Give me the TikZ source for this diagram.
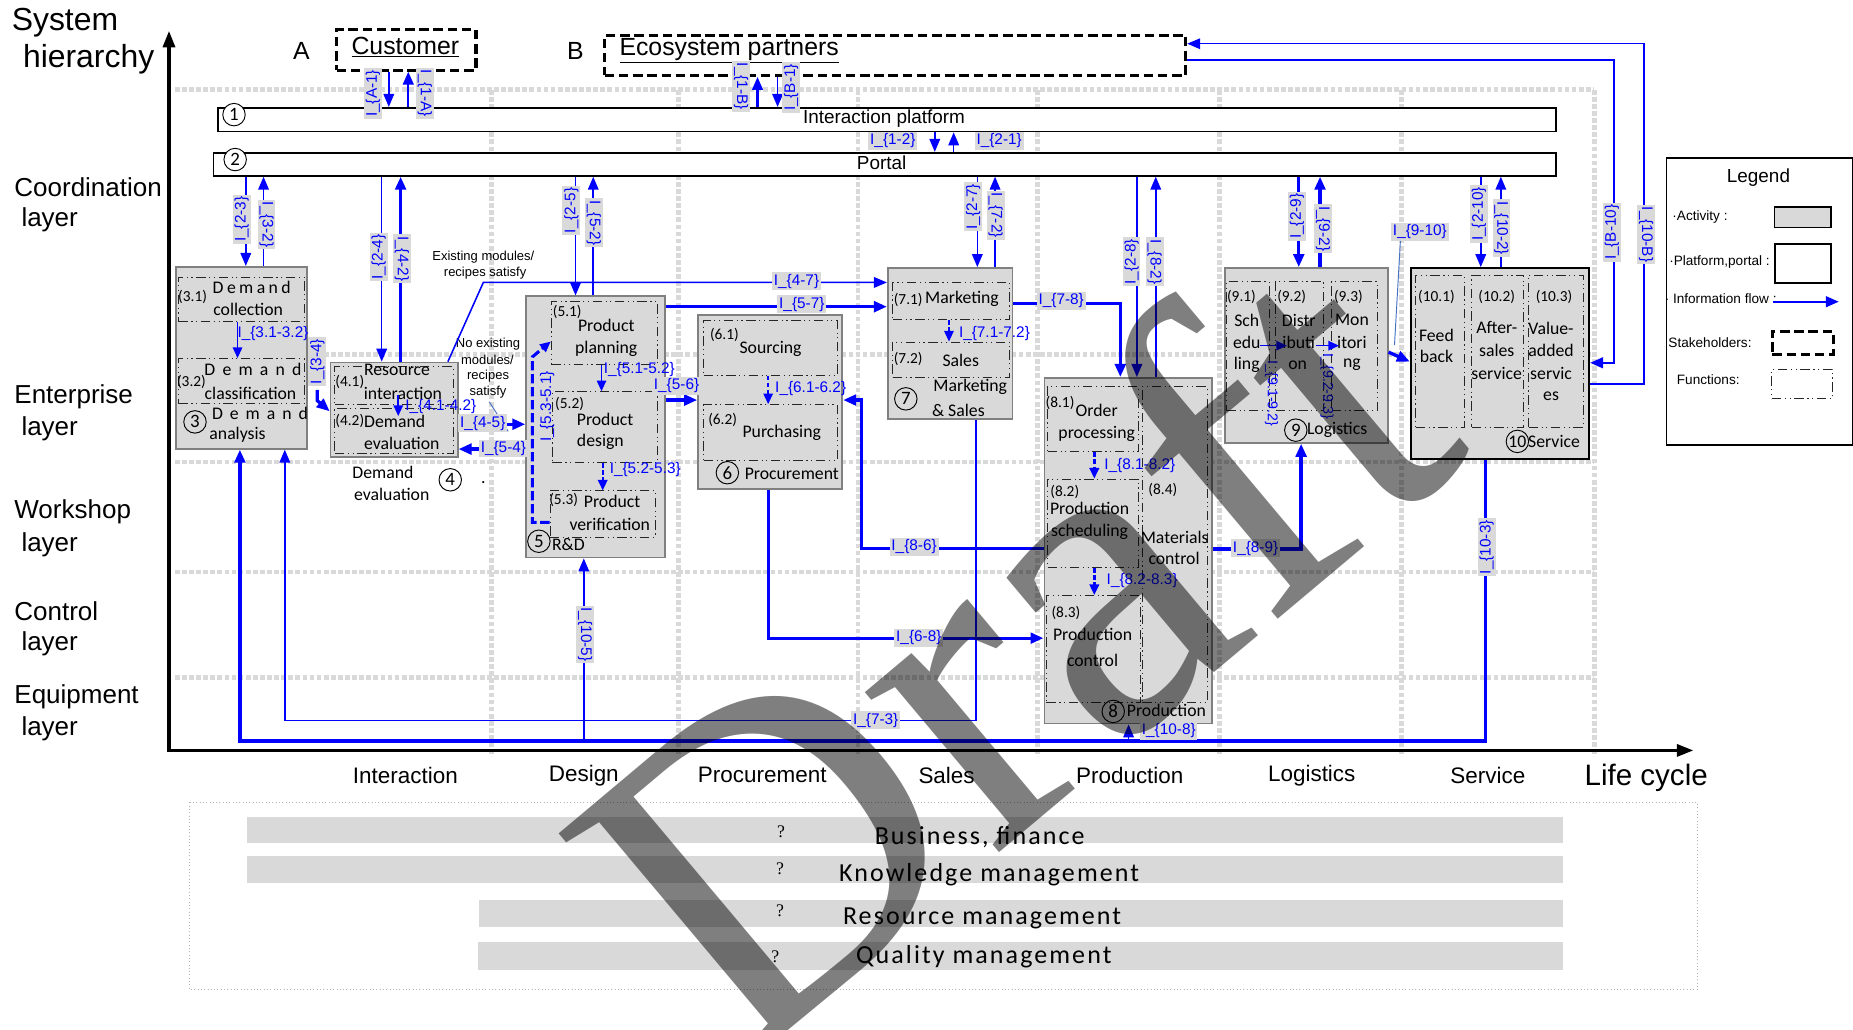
\documentclass[tikz,border=0pt]{standalone}
\usepackage{fontspec}
\setmainfont{Liberation Sans}
\newfontfamily\carl{Carlito}
\newfontfamily\carlsp[LetterSpace=8]{Carlito}
\newfontfamily\serifw{Liberation Serif}
\usetikzlibrary{arrows.meta}
\definecolor{stb}{RGB}{70,114,196}
\newcommand\fsz[1]{\fontsize{#1}{#1}\selectfont}
\newcommand\flab[1]{I\_\{#1\}}
\newcommand\spr[2]{\makebox[#1pt][s]{#2}}
\newcommand\mkbox[6]{\node[#1,minimum width={#4-#2},minimum height={#5-#3}] (#6) at (#2,#3) {};}
\tikzset{
 grd/.style={draw=gray!30, line width=4pt, dash pattern=on 4pt off 2pt},
 act/.style={draw=gray, line width=1.5pt, fill=gray!30, anchor=north west, inner sep=0pt, rectangle},
 fnc/.style={draw=black!85, line width=0.8pt, dash pattern=on 8pt off 3pt on 1pt off 3pt on 1pt off 3pt, anchor=north west, inner sep=0pt, rectangle},
 stk/.style={draw=black, line width=2.6pt, dash pattern=on 8pt off 4pt, anchor=north west, inner sep=0pt, rectangle},
 barb/.style={draw=black, line width=1.5pt, fill=white, anchor=north west, inner sep=0pt, rectangle},
 gbar/.style={fill=gray!30, anchor=north west, inner sep=0pt, rectangle},
 tx/.style={font=\carl\fsz{15}, inner sep=0pt},
 tn/.style={font=\carl\fsz{13}, inner sep=0pt},
 lab/.style={font=\fsz{13}, text=blue, fill=gray!30, inner sep=1.5pt},
 labv/.style={lab, rotate=90},
 labw/.style={lab, rotate=-90},
 labn/.style={font=\fsz{13}, text=blue, inner sep=0pt},
 cn/.style={circle, draw, line width=0.8pt, inner sep=0pt, minimum size=19pt, font=\carl\fsz{16}},
 fl/.style={draw=blue, line width=1.3pt, -{Triangle[length=11pt,width=9pt]}},
 flt/.style={fl, line width=2.8pt},
 fli/.style={draw=blue, line width=1.3pt, -{Triangle[length=9pt,width=8pt]}},
 big/.style={font=\fsz{22}, inner sep=0pt, anchor=west},
 lc/.style={font=\fsz{19}, inner sep=0pt},
 lg/.style={font=\fsz{11.5}, inner sep=0pt},
}
\begin{document}
\begin{tikzpicture}[x=1pt,y=-1pt]
\useasboundingbox (0,0) rectangle (1568,871);
\fill[white] (0,0) rectangle (1568,871);

% grid
\foreach \yy in {76,300,391,484,573} \draw[grd] (148,\yy) -- (1349,\yy);
\foreach \xx in {416,574,726,878,1032,1186,1349} \draw[grd] (\xx,76) -- (\xx,640);

% axes
\coordinate (org) at (143,635);
\coordinate (ytop) at (143,26);
\coordinate (xorg) at (141.5,635);
\coordinate (xend) at (1433,635);
\draw[line width=3pt, -{Triangle[length=14pt,width=10pt]}] (org) -- (ytop);
\draw[line width=3pt, -{Triangle[length=14pt,width=10pt]}] (xorg) -- (xend);

% axis titles
\node[font=\fsz{27}, inner sep=0pt] (sys1) at (55,19.5) {System};
\node[font=\fsz{27}, inner sep=0pt] (sys2) at (75,50.5) {hierarchy};
\node[big] (ly1a) at (12,158) {Coordination};
\node[big] (ly1b) at (18,186) {layer};
\node[big] (ly2a) at (12,336) {Enterprise};
\node[big] (ly2b) at (18,363) {layer};
\node[big] (ly3a) at (12,433) {Workshop};
\node[big] (ly3b) at (18,461) {layer};
\node[big] (ly4a) at (12,517) {Control};
\node[big] (ly4b) at (18,545) {layer};
\node[big] (ly5a) at (12,590) {Equipment};
\node[big] (ly5b) at (18,617) {layer};
\node[font=\fsz{25}, inner sep=0pt] (lcy) at (1393,658) {Life cycle};
\node[lc] (lc1) at (343,656) {Interaction};
\node[lc] (lc2) at (494,656) {Design};
\node[lc] (lc3) at (645,656) {Procurement};
\node[lc] (lc4) at (801,656) {Sales};
\node[lc] (lc5) at (956,656) {Production};
\node[lc] (lc6) at (1110,656) {Logistics};
\node[lc] (lc7) at (1259,656) {Service};

% stakeholders
\mkbox{stk}{283.5}{24}{401.5}{58}{cust}
\mkbox{stk}{510.5}{28.5}{1002}{62.5}{eco}
\node[font=\fsz{21}, inner sep=0pt] (custt) at (343,40) {\underline{Customer}};
\node[font=\fsz{21}, inner sep=0pt] (ecot) at (617,42.5) {\underline{Ecosystem partners}};
\node[font=\fsz{21}, inner sep=0pt] (lA) at (255,43) {A};
\node[font=\fsz{21}, inner sep=0pt] (lB) at (487,43) {B};

% platform and portal
\mkbox{barb}{183.5}{90.5}{1316}{110.5}{plat}
\mkbox{barb}{180}{128.5}{1316}{148}{port}
\node[font=\fsz{16}, inner sep=0pt] (platt) at (748,100) {Interaction platform};
\node[font=\fsz{16}, inner sep=0pt] (portt) at (746,138) {Portal};
\node[cn, fill=white] (n1) at (198,97) {1};
\node[cn, fill=white] (n2) at (199,135) {2};

% activity boxes
\mkbox{act}{148}{225}{259}{379}{b3}
\mkbox{act}{279}{306}{386.5}{386}{b4}
\mkbox{act}{444.5}{250}{562}{471}{b5}
\mkbox{act}{590}{266}{712}{413}{b6}
\mkbox{act}{750.5}{226}{856}{353.5}{b7}
\mkbox{act}{883}{319}{1024.5}{611.5}{b8}
\mkbox{act}{1036}{226}{1173.5}{374}{b9}
\mkbox{act,draw=black,line width=2pt}{1193}{226}{1343.5}{387.5}{b10}

% functions
\mkbox{fnc}{150.5}{234}{257}{272}{f31}
\mkbox{fnc}{150.5}{303}{257}{341}{f32}
\mkbox{fnc}{283}{310}{383}{342}{f41}
\mkbox{fnc}{283}{345}{383}{383}{f42}
\mkbox{fnc}{466}{255}{556}{308}{f51}
\mkbox{fnc}{467}{331}{556}{391}{f52}
\mkbox{fnc}{465}{415}{554}{454}{f53}
\mkbox{fnc}{595}{271}{708}{317}{f61}
\mkbox{fnc}{595}{342}{708}{389}{f62}
\mkbox{fnc}{755}{239}{854}{270}{f71}
\mkbox{fnc}{755}{289}{854}{319}{f72}
\mkbox{fnc}{886}{327}{963}{382}{f81}
\mkbox{fnc}{886}{405}{963}{480}{f82}
\mkbox{fnc}{885}{503.5}{964.5}{594}{f83}
\mkbox{fnc}{966}{327}{1021}{594}{f84}
\mkbox{fnc}{1037.5}{238}{1073.5}{347}{f91}
\mkbox{fnc}{1079}{238}{1119.5}{347}{f92}
\mkbox{fnc}{1126.5}{238}{1165}{347}{f93}
\mkbox{fnc}{1197.5}{232.5}{1238.5}{361}{f101}
\mkbox{fnc}{1245}{232.5}{1289}{361}{f102}
\mkbox{fnc}{1293}{232.5}{1339.5}{361}{f103}

% box 3 texts
\node[tn] (t31n) at (163,251) {(3.1)};
\node[tx] (t31a) at (213,243) {\spr{66}{D\hfil e\hfil m\hfil a\hfil n\hfil d}};
\node[tx] (t31b) at (210,262) {collection};
\node[tn] (t32n) at (162,323) {(3.2)};
\node[tx] (t32a) at (214,313) {\spr{82}{D\hfil e\hfil m\hfil a\hfil n\hfil d}};
\node[tx] (t32b) at (212,333) {classification};
\node[cn] (n3) at (165,357) {3};
\node[tx] (t3a) at (220,350) {\spr{81}{D\hfil e\hfil m\hfil a\hfil n\hfil d}};
\node[tx] (t3b) at (201,368) {analysis};
% box 4 texts
\node[tn] (t41n) at (296,323) {(4.1)};
\node[tx] (t41a) at (336,313) {Resource};
\node[tx] (t41b) at (341,333) {interaction};
\node[tn] (t42n) at (296,356) {(4.2)};
\node[tx] (t42a) at (334,357) {Demand};
\node[tx] (t42b) at (340,375) {evaluation};
\node[tx] (t4a) at (324,400) {Demand};
\node[tx] (t4b) at (331.5,418) {evaluation};
\node[cn] (n4) at (381,406) {4};
\node[tx] (t4c) at (409,408) {.};
\node[font=\fsz{11}, inner sep=0pt] (tex1) at (409,218) {Existing modules/};
\node[font=\fsz{11}, inner sep=0pt] (tex2) at (410.5,231.5) {recipes satisfy};
\node[font=\fsz{11}, inner sep=0pt] (tno1) at (413,291) {No existing};
\node[font=\fsz{11}, inner sep=0pt] (tno2) at (412.5,304.5) {modules/};
\node[font=\fsz{11}, inner sep=0pt] (tno3) at (413,318) {recipes};
\node[font=\fsz{11}, inner sep=0pt] (tno4) at (413,331.5) {satisfy};
% box 5 texts
\node[tn] (t51n) at (480,264) {(5.1)};
\node[tx] (t51a) at (513,275) {Product};
\node[tx] (t51b) at (513,295) {planning};
\node[tn] (t52n) at (482,342) {(5.2)};
\node[tx] (t52a) at (512,355) {Product};
\node[tx] (t52b) at (508,374) {design};
\node[tn] (t53n) at (477,423) {(5.3)};
\node[tx] (t53a) at (518,424.5) {Product};
\node[tx] (t53b) at (516,444) {verification};
\node[cn] (n5) at (456,458) {5};
\node[tx] (t5a) at (481,461) {R\&D};
% box 6 texts
\node[tn] (t61n) at (613,283.5) {(6.1)};
\node[tx] (t61a) at (652,295.5) {Sourcing};
\node[tn] (t62n) at (611.5,355) {(6.2)};
\node[tx] (t62a) at (661.5,366.5) {Purchasing};
\node[cn] (n6) at (615.5,400) {6};
\node[tx] (t6a) at (670,401) {Procurement};
% box 7 texts
\node[tn] (t71n) at (768.5,254) {(7.1)};
\node[tx] (t71a) at (814,252.5) {Marketing};
\node[tn] (t72n) at (768.5,304) {(7.2)};
\node[tx] (t72a) at (813,305) {Sales};
\node[cn] (n7) at (766.5,337.5) {7};
\node[tx] (t7a) at (821,327) {Marketing};
\node[tx] (t7b) at (811,347) {\& Sales};
% box 8 texts
\node[tn] (t81n) at (897,341) {(8.1)};
\node[tx] (t81a) at (928,347) {Order};
\node[tx] (t81b) at (928,367) {processing};
\node[tn] (t82n) at (901,416) {(8.2)};
\node[tx] (t82a) at (922,430) {Production};
\node[tx] (t82b) at (922,450) {scheduling};
\node[tn] (t83n) at (902,519) {(8.3)};
\node[tx] (t83a) at (924.5,536.5) {Production};
\node[tx] (t83b) at (924.5,558.5) {control};
\node[tn] (t84n) at (984,414.5) {(8.4)};
\node[tx] (t84a) at (994,455) {Materials};
\node[tx] (t84b) at (993.5,472.5) {control};
\node[cn] (n8) at (942,602) {8};
\node[tx] (t8a) at (987,601) {Production};
% box 9 texts
\node[tn] (t91n) at (1050.5,251.5) {(9.1)};
\node[tx] (t91a) at (1055,271) {Sch};
\node[tx] (t91b) at (1055,290) {edu};
\node[tx] (t91c) at (1055,309) {ling};
\node[tn] (t92n) at (1093,251.5) {(9.2)};
\node[tx] (t92a) at (1099,271) {Distr};
\node[tx] (t92b) at (1099,290) {ibuti};
\node[tx] (t92c) at (1098,309) {on};
\node[tn] (t93n) at (1141,251.5) {(9.3)};
\node[tx] (t93a) at (1144,271) {Mon};
\node[tx] (t93b) at (1144,290) {itori};
\node[tx] (t93c) at (1144,309) {ng};
\node[cn] (n9) at (1096.5,364) {9};
\node[tx] (t9a) at (1131.5,364) {Logistics};
% box 10 texts
\node[tn] (t101n) at (1215.5,251) {(10.1)};
\node[tx] (t101a) at (1215.5,283.5) {Feed};
\node[tx] (t101b) at (1215.5,302) {back};
\node[tn] (t102n) at (1266.5,251) {(10.2)};
\node[tx] (t102a) at (1266.5,277.5) {After-};
\node[tx] (t102b) at (1266.5,296.5) {sales};
\node[tx] (t102c) at (1266.5,316) {service};
\node[tn] (t103n) at (1315,251) {(10.3)};
\node[tx] (t103a) at (1312.5,277.5) {Value-};
\node[tx] (t103b) at (1312.5,296.5) {added};
\node[tx] (t103c) at (1312.5,316) {servic};
\node[tx] (t103d) at (1312.5,335) {es};
\node[cn, font=\carl\fsz{15}] (n10) at (1284,373.5) {10};
\node[tx] (t10a) at (1315,373.5) {Service};

% ---------- connectors ----------
% stakeholders - platform
\draw[fl] (cust.south -| 329,0) -- (plat.north -| 329,0);
\draw[fl, line width=2pt] (plat.north -| 345.5,0) -- (cust.south -| 345.5,0);
\draw[fl, line width=2pt] (plat.north -| 641,0) -- (eco.south -| 641,0);
\draw[fl] (eco.south -| 658,0) -- (plat.north -| 658,0);
\draw[fl] (plat.south -| 791,0) -- (port.north -| 791,0);
\draw[fl] (port.north -| 807,0) -- (plat.south -| 807,0);
% portal - activities
\draw[fl] (port.south -| 208,0) -- (b3.north -| 208,0);
\draw[fl] (b3.north -| 223,0) -- (port.south -| 223,0);
\draw[fl] (port.south -| 323,0) -- (b4.north -| 323,0);
\draw[flt] (b4.north -| 339,0) -- (port.south -| 339,0);
\draw[fl] (port.south -| 487,0) -- (b5.north -| 487,0);
\draw[fl] (b5.north -| 502,0) -- (port.south -| 502,0);
\draw[fl] (port.south -| 827,0) -- (b7.north -| 827,0);
\draw[fl] (b7.north -| 842,0) -- (port.south -| 842,0);
\draw[fl] (port.south -| 962,0) -- (b8.north -| 962,0);
\draw[fl] (b8.north -| 978,0) -- (port.south -| 978,0);
\draw[flt] (port.south -| 1099,0) -- (b9.north -| 1099,0);
\draw[flt] (b9.north -| 1117,0) -- (port.south -| 1117,0);
\draw[fl] (port.south -| 1253,0) -- (b10.north -| 1253,0);
\draw[fl] (b10.north -| 1270,0) -- (port.south -| 1270,0);
% service - ecosystem
\draw[fl] (b10.east |- 0,325) -- (1391,325) -- (1391,37) -- (eco.east |- 0,37);
\draw[fl, line width=2pt] (eco.east |- 0,51) -- (1366,51) -- (1366,307) -- (b10.east |- 0,307);
% enterprise flows
\coordinate (c34) at (268.5,330);
\coordinate (c34b) at (268.5,339);
\draw[flt] (c34) -- (c34b) -- (b4.west |- 0,348);
\draw[fl] ([xshift=-9pt]b4.north east) -- (409,239) -- (b7.west |- 0,239);
\draw[flt] (b4.east |- 0,359) -- (b5.west |- 0,359);
\coordinate (ne1) at (414,340);
\coordinate (ne2) at (430,365);
\draw[stb, line width=0.8pt] (ne1) -- (ne2);
\draw[flt] (b5.west |- 0,380) -- (b4.east |- 0,380);
\draw[flt] (b5.east |- 0,259.5) -- (b7.west |- 0,259.5);
\draw[flt] (b5.east |- 0,338.5) -- (b6.west |- 0,338.5);
\draw[flt] (b6.south -| 650,0) -- (650,540) -- (b8.west |- 0,540);
\draw[flt] (b8.west |- 0,464) -- (729,464) -- (729,338.5) -- (b6.east |- 0,338.5);
\draw[flt] (b7.east |- 0,257) -- (948,257) -- (b8.north -| 948,0);
\draw[fl] (b7.south -| 826,0) -- (826,609.5) -- (241,609.5) -- (b3.south -| 241,0);
\draw[flt] (b10.south -| 1257,0) -- (1257,627) -- (203,627) -- (b3.south -| 203,0);
\coordinate (j5) at (494,627);
\coordinate (j8) at (955,627);
\draw[fl] (j5) -- (b5.south -| 494,0);
\draw[fl] (j8) -- (b8.south -| 955,0);
\draw[flt] (b8.east |- 0,464.5) -- (1101,464.5) -- (b9.south -| 1101,0);
\draw[flt] (b9.east |- 0,298) -- (b10.west |- 0,306);
% inner flows
\draw[fli] (f31.south -| 201,0) -- (f32.north -| 201,0);
\coordinate (a41) at (337,334);
\coordinate (a42) at (337,352);
\draw[fli] (a41) -- (a42);
\draw[fli] (f51.south -| 509,0) -- (f52.north -| 509,0);
\draw[fli, line width=2pt, dash pattern=on 4pt off 2pt] (f52.south -| 510,0) -- (f53.north -| 510,0);
\draw[fli, line width=2.6pt, dash pattern=on 8pt off 3pt] (f53.west |- 0,442) -- (450.5,442) -- (450.5,302) -- (f51.west |- 0,289);
\draw[fli, dash pattern=on 4pt off 2pt] (f61.south -| 650,0) -- (f62.north -| 650,0);
\draw[fli, dash pattern=on 4pt off 2pt] (f71.south -| 803,0) -- (f72.north -| 803,0);
\draw[fli, line width=2pt, dash pattern=on 4pt off 2pt] (f81.south -| 926,0) -- (f82.north -| 926,0);
\draw[fli, line width=2pt, dash pattern=on 4pt off 2pt] (f82.south -| 926,0) -- (f83.north -| 926,0);
\coordinate (a91) at (1066,292.5);
\coordinate (a92) at (1089,292.5);
\coordinate (a93) at (1114,292.5);
\coordinate (a94) at (1133,292.5);
\draw[fli] (a91) -- (a92);
\draw[fli] (a93) -- (a94);

% ---------- labels ----------
\node[labv] (lA1) at (315.5,79) {\flab{A-1}};
\node[labw] (l1A) at (359.5,79) {\flab{1-A}};
\node[labw] (l1B) at (627,73) {\flab{1-B}};
\node[labv] (lB1) at (669.5,74) {\flab{B-1}};
\node[lab] (l12) at (755.5,119) {\flab{1-2}};
\node[lab] (l21) at (845.5,119) {\flab{2-1}};
\node[labv] (l23) at (204.5,185.5) {\flab{2-3}};
\node[labw] (l32) at (225.5,190) {\flab{3-2}};
\node[labv] (l24) at (320.5,217.5) {\flab{2-4}};
\node[labw] (l42) at (340,219) {\flab{4-2}};
\node[labv] (l25) at (483.5,178) {\flab{2-5}};
\node[labw] (l52) at (502.5,188.5) {\flab{5-2}};
\node[labv] (l27) at (823.5,175) {\flab{2-7}};
\node[labw] (l72) at (842.5,182) {\flab{7-2}};
\node[labv] (l28) at (957.5,221.5) {\flab{2-8}};
\node[labw] (l82) at (977,221.5) {\flab{8-2}};
\node[labv] (l29) at (1097.5,183) {\flab{2-9}};
\node[labw] (l92) at (1119.5,193.5) {\flab{9-2}};
\node[labv] (l210) at (1251.5,181) {\flab{2-10}};
\node[labw] (l102) at (1270.5,193) {\flab{10-2}};
\node[labv] (lB10) at (1364,196.5) {\flab{B-10}};
\node[labw] (l10B) at (1393,198.5) {\flab{10-B}};
\node[labv] (l34) at (268.5,306) {\flab{3-4}};
\node[lab] (l47) at (674,238) {\flab{4-7}};
\node[lab] (l45) at (408.5,358) {\flab{4-5}};
\node[lab] (l54) at (426,379.5) {\flab{5-4}};
\node[lab] (l57) at (678.5,257.5) {\flab{5-7}};
\node[lab] (l56) at (572.5,326.5) {\flab{5-6}};
\node[lab] (l68) at (777.5,539.5) {\flab{6-8}};
\node[lab] (l86) at (773.5,462.5) {\flab{8-6}};
\node[lab] (l78) at (898,254.5) {\flab{7-8}};
\node[lab] (l73) at (741,609.5) {\flab{7-3}};
\node[labv] (l103) at (1258,463) {\flab{10-3}};
\node[labw] (l105) at (495,537) {\flab{10-5}};
\node[lab] (l108) at (989,618.5) {\flab{10-8}};
\node[lab] (l89) at (1062.5,464) {\flab{8-9}};
\node[lab] (l910) at (1201.5,196) {\flab{9-10}};
\coordinate (p910) at (1180,292);
\draw[stb, line width=0.8pt] (l910.south -| 1185,0) -- (p910);
\node[labn] (l3132) at (231,282) {\flab{3.1-3.2}};
\node[labn] (l4142) at (373,344) {\flab{4.1-4.2}};
\node[labn] (l5152) at (541,312.5) {\flab{5.1-5.2}};
\node[labn] (l5253) at (546,397.5) {\flab{5.2-5.3}};
\node[labn, rotate=90] (l5351) at (463,344) {\flab{5.3-5.1}};
\node[labn] (l6162) at (686,328.5) {\flab{6.1-6.2}};
\node[labn] (l7172) at (841.5,282) {\flab{7.1-7.2}};
\node[labn] (l8182) at (964.5,393.5) {\flab{8.1-8.2}};
\node[labn] (l8283) at (966.5,491) {\flab{8.2-8.3}};
\node[labn, rotate=-90, font=\fsz{12}] (l9192) at (1076,333) {\flab{9.1-9.2}};
\node[labn, rotate=-90, font=\fsz{12}] (l9293) at (1123,327) {\flab{9.2-9.3}};

% ---------- legend ----------
\mkbox{barb}{1409.5}{133}{1567}{375.5}{leg}
\node[font=\fsz{16}, inner sep=0pt] (legt) at (1488,150) {Legend};
\node[lg] (lg1) at (1438.5,184) {·Activity :};
\mkbox{act,draw=black,line width=1.3pt}{1501}{174.5}{1548.5}{192}{lgA}
\node[lg] (lg2) at (1455,221.5) {·Platform,portal :};
\mkbox{barb}{1501}{205.5}{1548.5}{238.5}{lgP}
\node[lg] (lg3) at (1456,252.5) {· Information flow :};
\coordinate (lgf1) at (1500.5,255.3);
\coordinate (lgf2) at (1556,255.3);
\draw[fl, line width=2pt] (lgf1) -- (lgf2);
\node[lg] (lg4) at (1447,290) {Stakeholders:};
\mkbox{stk}{1498.5}{279}{1550}{298.5}{lgS}
\node[lg] (lg5) at (1445.5,321) {Functions:};
\mkbox{fnc}{1499}{312}{1550}{337}{lgF}

% ---------- bottom functions ----------
\draw[gray!60, line width=0.8pt, dotted] (160.5,679) rectangle (1436,837.5);
\mkbox{gbar}{209}{691.5}{1322.5}{713.5}{bz1}
\mkbox{gbar}{209}{724.5}{1322.5}{747}{bz2}
\mkbox{gbar}{405.5}{761.5}{1322.5}{784}{bz3}
\mkbox{gbar}{404.5}{796.5}{1322.5}{820.5}{bz4}
\node[font=\serifw\fsz{15}, inner sep=0pt] (q1) at (661,703.5) {?};
\node[font=\serifw\fsz{15}, inner sep=0pt] (q2) at (660,735.5) {?};
\node[font=\serifw\fsz{15}, inner sep=0pt] (q3) at (660,771) {?};
\node[font=\serifw\fsz{15}, inner sep=0pt] (q4) at (656,810) {?};
\node[font=\carlsp\fsz{22}, inner sep=0pt] (bt1) at (829,708) {Business, finance};
\node[font=\carlsp\fsz{22}, inner sep=0pt] (bt2) at (837,740) {Knowledge management};
\node[font=\carlsp\fsz{22}, inner sep=0pt] (bt3) at (831,777) {Resource management};
\node[font=\carlsp\fsz{22}, inner sep=0pt] (bt4) at (832.5,809.5) {Quality management};

% ---------- watermark ----------
\node[font=\serifw\fsz{385}, text=black, text opacity=0.5, rotate=40, inner sep=0pt] (wm) at (852,542) {Draft};
\end{tikzpicture}
\end{document}
